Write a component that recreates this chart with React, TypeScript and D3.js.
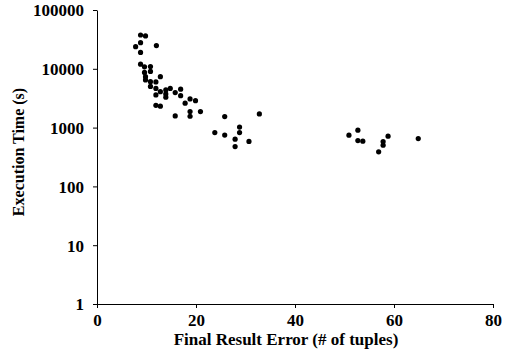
import * as d3 from 'd3'
import { useRef, useEffect } from 'react'

const W = 515, H = 360
const M = { top: 10, right: 22, bottom: 56, left: 97 }

// Final result error (# of tuples)
const errX = [
  8.8, 9.8, 8.8, 7.8, 12.0, 8.8, 8.8, 9.6, 10.8, 10.8, 9.6, 9.8, 12.8, 9.8, 10.8, 11.9,
  10.8, 11.9, 12.8, 13.9, 14.8, 13.9, 13.9, 11.9, 15.8, 16.9, 16.9, 17.8, 18.8, 19.9,
  11.9, 12.8, 15.8, 18.8, 18.8, 20.9, 25.8, 32.8, 23.8, 25.8, 28.8, 28.8, 27.9, 27.9,
  30.7, 50.9, 52.7, 52.7, 53.7, 57.8, 57.8, 56.9, 58.8, 64.9,
]
// Execution time (s)
const timeY = [
  37600, 36200, 27800, 23800, 24800, 19000, 12000, 10800, 10900, 9020, 8670, 7360, 7360, 6470, 6050, 5980,
  5010, 4640, 4090, 4370, 4640, 3740, 3290, 3600, 3940, 4510, 3490, 2600, 3070, 2870,
  2390, 2310, 1580, 1870, 1560, 1870, 1540, 1710, 823, 746, 1020, 823, 636, 476,
  583, 743, 904, 602, 588, 579, 503, 387, 715, 651,
]
const xTicks = [0, 20, 40, 60, 80]
const yTicks = [1, 10, 100, 1000, 10000, 100000]

export default function App() {
  const svgRef = useRef<SVGSVGElement>(null)

  useEffect(() => {
    const svg = d3.select(svgRef.current)
    svg.selectAll('*').remove()

    const xSc = d3.scaleLinear().domain([0, 80]).range([M.left, W - M.right])
    const ySc = d3.scaleLog().domain([1, 100000]).range([H - M.bottom, M.top])
    const font = "'Liberation Serif', 'DejaVu Serif', serif"

    const gx = svg.append('g').attr('transform', `translate(0,${H - M.bottom})`)
      .call(d3.axisBottom(xSc).tickValues(xTicks).tickSize(4).tickSizeOuter(0).tickPadding(6))
    const gy = svg.append('g').attr('transform', `translate(${M.left},0)`)
      .call(d3.axisLeft(ySc).tickValues(yTicks).tickFormat(d3.format('d')).tickSize(4).tickSizeOuter(0).tickPadding(9))
    ;[gx, gy].forEach((g) => {
      g.attr('font-family', null).attr('font-size', null)
      g.selectAll('text').style('font-family', font).style('font-weight', 'bold').style('font-size', '17px').attr('fill', '#000')
      g.selectAll('line,path').attr('stroke', '#000')
    })
    gy.selectAll('text').attr('dy', '0.35em')

    // Points
    svg.append('g').selectAll('circle').data(errX.map((x, i) => [x, timeY[i]]))
      .join('circle')
      .attr('cx', (d) => xSc(d[0]))
      .attr('cy', (d) => ySc(d[1]))
      .attr('r', 2.6)
      .attr('fill', '#000')

    // Axis titles
    svg.append('text').attr('x', 286).attr('y', 345).attr('text-anchor', 'middle')
      .style('font-family', font).style('font-weight', 'bold').style('font-size', '17px').text('Final Result Error (# of tuples)')
    svg.append('text').attr('transform', 'translate(24,152) rotate(-90)').attr('text-anchor', 'middle')
      .style('font-family', font).style('font-weight', 'bold').style('font-size', '16px').text('Execution Time (s)')
  }, [])

  return (
    <div style={{ position: 'absolute', left: 0, top: 0 }}>
      <svg ref={svgRef} width={W} height={H} style={{ display: 'block', background: '#fff' }} />
    </div>
  )
}
